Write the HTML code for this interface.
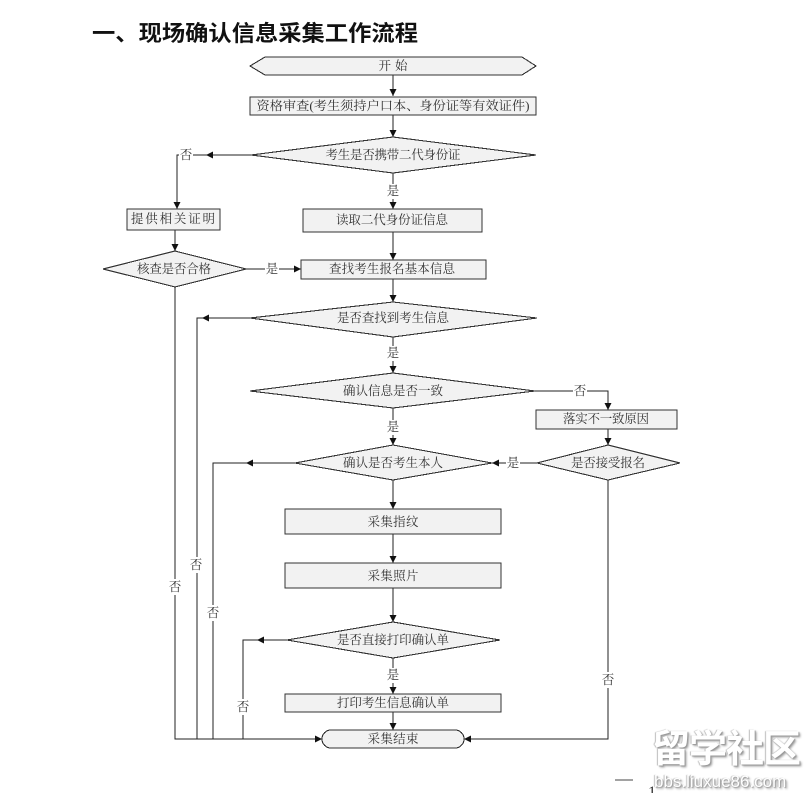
<!DOCTYPE html>
<html><head><meta charset="utf-8"><style>
html,body{margin:0;padding:0;background:#fff;}
body{width:811px;height:793px;overflow:hidden;position:relative;}
svg{position:absolute;left:0;top:0;}
.t{font-family:"Liberation Serif","Noto Serif CJK SC",serif;font-size:12.5px;fill:#333;text-anchor:middle;dominant-baseline:central;}
.s{fill:#f2f2f2;stroke:#333;stroke-width:1.1;}
.l{fill:none;stroke:#222;stroke-width:1;}
.wm{position:absolute;font-family:"Liberation Sans","Noto Sans CJK SC",sans-serif;color:#fff;text-shadow:1px 1px 1px #999,-1px 0 1px #bbb,2px 2px 2px #aaa;}
</style></head><body>
<svg width="811" height="793" viewBox="0 0 811 793" xmlns="http://www.w3.org/2000/svg" shape-rendering="crispEdges">
<defs>
<marker id="a" markerWidth="8" markerHeight="8" refX="7" refY="4" orient="auto" markerUnits="userSpaceOnUse">
<path d="M0,0.5 L7,4 L0,7.5 z" fill="#111"/>
</marker>
</defs>
<text x="92" y="41" font-family="Liberation Sans, Noto Sans CJK SC, sans-serif" font-size="22" font-weight="700" fill="#111" textLength="326" lengthAdjust="spacingAndGlyphs">一、现场确认信息采集工作流程</text>

<!-- connectors -->
<g class="l">
<line x1="393" y1="75" x2="393" y2="96" marker-end="url(#a)"/>
<line x1="393" y1="115" x2="393" y2="137" marker-end="url(#a)"/>
<line x1="251" y1="155" x2="206" y2="155" marker-end="url(#a)"/>
<polyline points="206,155 177,155 177,209" marker-end="url(#a)"/>
<line x1="393" y1="173" x2="393" y2="209" marker-end="url(#a)"/>
<line x1="175" y1="230" x2="175" y2="251" marker-end="url(#a)"/>
<line x1="246" y1="269" x2="301" y2="269" marker-end="url(#a)"/>
<line x1="393" y1="232" x2="393" y2="260" marker-end="url(#a)"/>
<line x1="393" y1="279" x2="393" y2="302" marker-end="url(#a)"/>
<polyline points="175,287 175,739 322,739" marker-end="url(#a)"/>
<line x1="250" y1="318" x2="202" y2="318" marker-end="url(#a)"/>
<polyline points="202,318 197,318 197,739"/>
<line x1="393" y1="337" x2="393" y2="373" marker-end="url(#a)"/>
<polyline points="535,391 608,391 608,410" marker-end="url(#a)"/>
<line x1="393" y1="408" x2="393" y2="445" marker-end="url(#a)"/>
<line x1="608" y1="429" x2="608" y2="445" marker-end="url(#a)"/>
<line x1="537" y1="463" x2="492" y2="463" marker-end="url(#a)"/>
<line x1="295" y1="463" x2="246" y2="463" marker-end="url(#a)"/>
<polyline points="246,463 213,463 213,739"/>
<line x1="393" y1="480" x2="393" y2="509" marker-end="url(#a)"/>
<line x1="393" y1="534" x2="393" y2="563" marker-end="url(#a)"/>
<line x1="393" y1="588" x2="393" y2="622" marker-end="url(#a)"/>
<line x1="287" y1="640" x2="257" y2="640" marker-end="url(#a)"/>
<polyline points="257,640 243,640 243,739"/>
<line x1="393" y1="658" x2="393" y2="694" marker-end="url(#a)"/>
<line x1="393" y1="712" x2="393" y2="730" marker-end="url(#a)"/>
<polyline points="608,480 608,739 464,739" marker-end="url(#a)"/>
</g>

<!-- shapes -->
<polygon class="s" points="250,66 265,57 522,57 536,66 522,75 265,75"/>
<rect class="s" x="250" y="97" width="286" height="18"/>
<polygon class="s" points="251,155 393,137 536,155 393,173"/>
<rect class="s" x="127" y="209" width="93" height="21"/>
<rect class="s" x="303" y="209" width="179" height="23"/>
<polygon class="s" points="103,269 175,251 246,269 175,287"/>
<rect class="s" x="301" y="260" width="185" height="19"/>
<polygon class="s" points="250,318 393,302 537,318 393,337"/>
<polygon class="s" points="250,391 393,373 535,391 393,408"/>
<rect class="s" x="536" y="410" width="141" height="19"/>
<polygon class="s" points="295,463 393,445 492,463 393,480"/>
<polygon class="s" points="537,463 608,445 680,463 608,480"/>
<rect class="s" x="285" y="509" width="216" height="25"/>
<rect class="s" x="285" y="563" width="216" height="25"/>
<polygon class="s" points="287,640 393,622 500,640 393,658"/>
<rect class="s" x="285" y="694" width="216" height="18"/>
<rect class="s" x="322" y="730" width="142" height="18" rx="9" ry="9"/>

<!-- label backgrounds -->
<g fill="#fff">
<rect x="179" y="147" width="14" height="16"/>
<rect x="386" y="184" width="14" height="15"/>
<rect x="265" y="262" width="14" height="15"/>
<rect x="386" y="346" width="14" height="15"/>
<rect x="573" y="384" width="14" height="15"/>
<rect x="386" y="420" width="14" height="15"/>
<rect x="506" y="456" width="14" height="15"/>
<rect x="168" y="579" width="14" height="16"/>
<rect x="189" y="557" width="14" height="16"/>
<rect x="206" y="605" width="14" height="16"/>
<rect x="236" y="699" width="14" height="16"/>
<rect x="386" y="668" width="14" height="15"/>
<rect x="601" y="672" width="14" height="16"/>
</g>

<!-- text -->
<text class="t" x="393" y="66" textLength="29" lengthAdjust="spacing">开始</text>
<text class="t" x="393" y="106" textLength="273" lengthAdjust="spacingAndGlyphs">资格审查(考生须持户口本、身份证等有效证件)</text>
<text class="t" x="393" y="155" textLength="135">考生是否携带二代身份证</text>
<text class="t" x="186" y="155">否</text>
<text class="t" x="393" y="191">是</text>
<text class="t" x="173" y="219" textLength="84">提供相关证明</text>
<text class="t" x="392" y="220" textLength="112">读取二代身份证信息</text>
<text class="t" x="174" y="269" textLength="74">核查是否合格</text>
<text class="t" x="272" y="269">是</text>
<text class="t" x="392" y="269" textLength="126">查找考生报名基本信息</text>
<text class="t" x="393" y="318" textLength="112">是否查找到考生信息</text>
<text class="t" x="393" y="353">是</text>
<text class="t" x="393" y="391" textLength="100">确认信息是否一致</text>
<text class="t" x="580" y="391">否</text>
<text class="t" x="606" y="419" textLength="86">落实不一致原因</text>
<text class="t" x="393" y="427">是</text>
<text class="t" x="393" y="463" textLength="100">确认是否考生本人</text>
<text class="t" x="513" y="463">是</text>
<text class="t" x="608" y="463" textLength="74">是否接受报名</text>
<text class="t" x="393" y="522" textLength="51">采集指纹</text>
<text class="t" x="393" y="576" textLength="51">采集照片</text>
<text class="t" x="196" y="565">否</text>
<text class="t" x="175" y="587">否</text>
<text class="t" x="213" y="613">否</text>
<text class="t" x="393" y="640" textLength="112">是否直接打印确认单</text>
<text class="t" x="393" y="675">是</text>
<text class="t" x="393" y="703" textLength="112">打印考生信息确认单</text>
<text class="t" x="243" y="707">否</text>
<text class="t" x="393" y="739" textLength="51">采集结束</text>
<text class="t" x="608" y="680">否</text>

<!-- footer -->
<line x1="615" y1="780" x2="633" y2="780" stroke="#444" stroke-width="1"/>
<text x="648" y="797" font-family="Liberation Serif, serif" font-size="16" fill="#333">1</text>
</svg>
<div class="wm" style="left:652px;top:728px;font-size:38px;font-weight:700;letter-spacing:-1px;line-height:44px;font-family:'Liberation Sans','Noto Sans CJK SC',sans-serif;">留学社区</div>
<div class="wm" style="left:654px;top:772px;font-size:17px;line-height:20px;">bbs.liuxue86.com</div>
</body></html>
